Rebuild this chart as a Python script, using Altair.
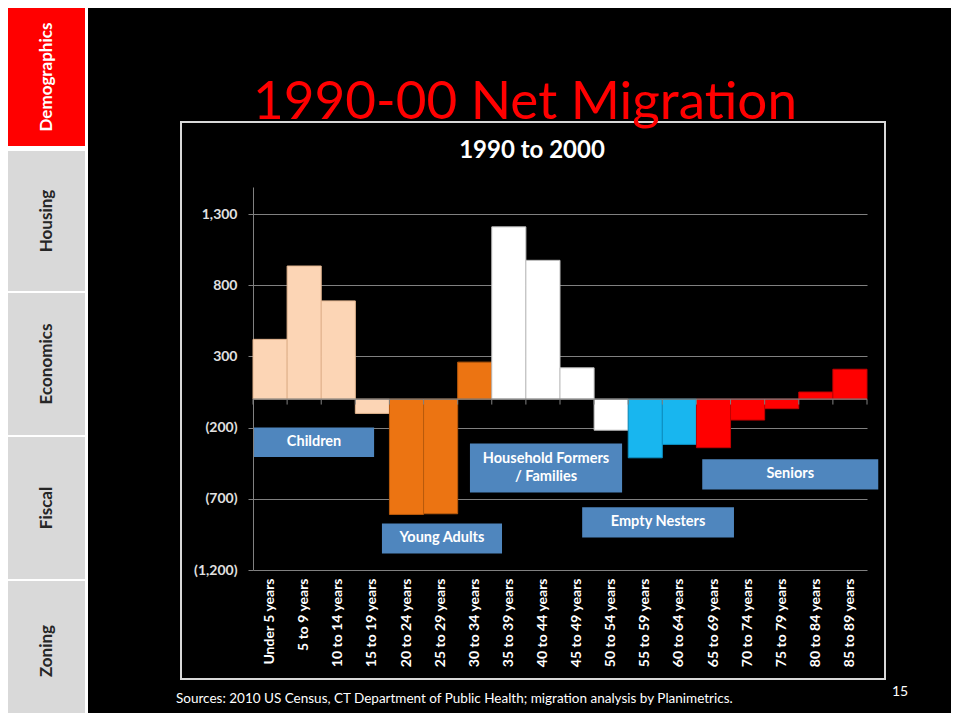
import altair as alt
import pandas as pd

# ---------------- data ----------------
ages = ["Under 5 years", "5 to 9 years", "10 to 14 years", "15 to 19 years",
        "20 to 24 years", "25 to 29 years", "30 to 34 years", "35 to 39 years",
        "40 to 44 years", "45 to 49 years", "50 to 54 years", "55 to 59 years",
        "60 to 64 years", "65 to 69 years", "70 to 74 years", "75 to 79 years",
        "80 to 84 years", "85 to 89 years"]
net_migration = [420, 935, 690, -100, -810, -805, 260, 1210, 975, 220,
                 -218, -412, -318, -341, -147, -67, 50, 210]
groups = (["Children"] * 4 + ["Young Adults"] * 3 + ["Household Formers"] * 4
          + ["Empty Nesters"] * 2 + ["Seniors"] * 5)
y_ticks = [-1200, -700, -200, 300, 800, 1300]

group_names = ["Children", "Young Adults", "Household Formers", "Empty Nesters", "Seniors"]
fill_colors = ["#FCD5B5", "#EC7412", "#FFFFFF", "#18B6EF", "#FF0000"]
edge_colors = ["#E3B58F", "#B85A0C", "#BFBFBF", "#0E8FC0", "#C00000"]

# annotation boxes (x in category units, y in data units)
box_labels = ["Children", "Young Adults", "Household Formers\n/ Families", "Empty Nesters", "Seniors"]
box_lines = [1, 1, 2, 1, 1]
box_x0 = [0.03, 3.78, 6.36, 9.65, 13.17]
box_x1 = [3.55, 7.30, 10.82, 14.10, 18.33]
box_y0 = [-199, -873, -311, -760, -423]
box_y1 = [-407, -1084, -655, -971, -634]

tab_names = ["Demographics", "Housing", "Economics", "Fiscal", "Zoning"]

# ---------------- layout ----------------
W, H = 614, 383
FONT = "Lato"
GRID = "#808080"

df = pd.DataFrame({"age": ages, "value": net_migration, "group": groups})
boxes = pd.DataFrame({"label": box_labels, "lines": box_lines, "x0": box_x0, "x1": box_x1,
                      "y0": box_y0, "y1": box_y1})
one = pd.DataFrame({"t": [""]})

y_scale = alt.Scale(domain=[-1200, 1490], nice=False, zero=False)
x_band = alt.Scale(paddingInner=0, paddingOuter=0)

label_expr = ("datum.value < 0 ? '(' + format(-datum.value, ',') + ')' "
              ": format(datum.value, ',')")

bars = alt.Chart(df).mark_bar(strokeWidth=1).encode(
    x=alt.X("age:N", sort=ages, scale=x_band,
            axis=alt.Axis(title=None, labelAngle=-90, labelColor="white",
                          labelFont=FONT, labelFontWeight="bold", labelFontSize=14,
                          labelPadding=8, ticks=False, domain=False, grid=False)),
    y=alt.Y("value:Q", scale=y_scale,
            axis=alt.Axis(title=None, values=y_ticks, labelExpr=label_expr,
                          labelColor="#E0E0E0", labelFont=FONT, labelFontWeight="bold",
                          labelFontSize=14, labelPadding=11, tickSize=5,
                          tickColor=GRID, domainColor=GRID, gridColor=GRID,
                          gridWidth=1, grid=True)),
    y2=alt.datum(0),
    fill=alt.Fill("group:N", scale=alt.Scale(domain=group_names, range=fill_colors), legend=None),
    stroke=alt.Stroke("group:N", scale=alt.Scale(domain=group_names, range=edge_colors), legend=None),
)

zero_line = alt.Chart(one).mark_rule(color=GRID, strokeWidth=1.2).encode(y=alt.datum(0))

cat_ticks = alt.Chart(df).mark_rule(color=GRID).encode(
    x=alt.X("age:N", sort=ages, scale=x_band, bandPosition=0, axis=None),
    y=alt.datum(0), y2=alt.datum(-38))
end_tick = alt.Chart(one).mark_rule(color=GRID).encode(
    x=alt.value(W), y=alt.datum(0), y2=alt.datum(-38))

xq = alt.Scale(domain=[0, 18], nice=False, zero=False)
box_rects = alt.Chart(boxes).mark_rect(color="#4F86BE").encode(
    x=alt.X("x0:Q", scale=xq, axis=None), x2="x1:Q",
    y=alt.Y("y0:Q", scale=y_scale), y2="y1:Q")


def box_text_layer(n_lines, dy):
    return alt.Chart(boxes).transform_filter(
        alt.datum.lines == n_lines
    ).transform_calculate(
        xm="(datum.x0 + datum.x1) / 2", ym="(datum.y0 + datum.y1) / 2"
    ).mark_text(color="white", font=FONT, fontWeight="bold", fontSize=14.5,
                lineBreak="\n", lineHeight=18, baseline="middle", align="center",
                dy=dy).encode(
        x=alt.X("xm:Q", scale=xq, axis=None),
        y=alt.Y("ym:Q", scale=y_scale),
        text="label:N")


box_text1 = box_text_layer(1, 0)
box_text2 = box_text_layer(2, -9)


# ---------------- slide decorations (pixel layout relative to plot origin) ----------------
def rect(x0, x1, y0, y1, **kw):
    return alt.Chart(one).mark_rect(**kw).encode(
        x=alt.value(x0), x2=alt.value(x1), y=alt.value(y0), y2=alt.value(y1))


def text(s, x, y, **kw):
    return alt.Chart(pd.DataFrame({"t": [s]})).mark_text(**kw).encode(
        x=alt.value(x), y=alt.value(y), text="t:N")


deco = [rect(-245, -165, -185, 540, color="white")]
tab_tops = [-185, -36, 106, 250, 394]
tab_bottoms = [-41, 104, 248, 392, 540]
tab_centers = [-110, 34, 177, 321, 464]
for i, name in enumerate(tab_names):
    active = i == 0
    deco.append(rect(-245, -168, tab_tops[i], tab_bottoms[i],
                     color="#FF0000" if active else "#D9D9D9"))
    deco.append(text(name, -206, tab_centers[i], angle=270, align="center", baseline="middle",
                     font=FONT, fontWeight="bold", fontSize=17,
                     color="white" if active else "#262626"))

border = rect(-72, 632, -65, 492, fillOpacity=0, stroke="#D9D9D9", strokeWidth=2)
title = text("1990-00 Net Migration", 272, -68, align="center", baseline="alphabetic",
             font=FONT, fontSize=53, color="#FF0000")
subtitle = text("1990 to 2000", 279, -29, align="center", baseline="alphabetic",
                font=FONT, fontWeight="bold", fontSize=24, color="white")
sources = text("Sources:  2010 US Census, CT Department of Public Health; migration analysis by Planimetrics.",
               -77, 516, align="left", baseline="alphabetic", font=FONT, fontSize=13.5,
               color="white")
page_no = text("15", 647, 509, align="center", baseline="alphabetic", font=FONT,
               fontSize=14, color="white")

chart = alt.layer(
    *deco, border, bars, cat_ticks, end_tick, zero_line, box_rects, box_text1, box_text2,
    title, subtitle, sources, page_no
).resolve_scale(x="independent").properties(
    width=W, height=H,
    padding={"left": 245, "top": 179, "right": 84, "bottom": 143},
    autosize=alt.AutoSizeParams(type="none"),
    background="black",
).configure_view(stroke=None)

chart.save("out.html", embed_options={"renderer": "svg", "actions": False})
